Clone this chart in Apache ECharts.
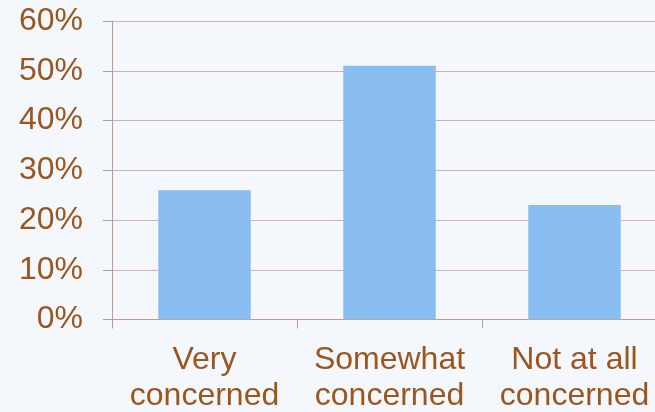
<!DOCTYPE html>
<html>
<head>
<meta charset="utf-8">
<style>
html,body{margin:0;padding:0;background:#f4f7fc;}
#c{width:655px;height:412px;}
</style>
<script src="https://cdn.jsdelivr.net/npm/echarts@6/dist/echarts.min.js"></script>
</head>
<body>
<div id="c"></div>
<script>
const categories = ["Very\nconcerned", "Somewhat\nconcerned", "Not at all\nconcerned"];
const values = [26, 51, 23];
const yTicks = { min: 0, max: 60, interval: 10 };

const chart = echarts.init(document.getElementById('c'), null, { renderer: 'canvas' });
const brown = '#9a561c';
chart.setOption({
  backgroundColor: '#f4f7fc',
  animation: false,
  grid: { left: 112, top: 21, width: 555, height: 298.5, containLabel: false, outerBoundsMode: 'none' },
  xAxis: {
    type: 'category',
    data: categories,
    boundaryGap: true,
    axisLine: { lineStyle: { color: '#bb9d8f', width: 1 } },
    axisTick: { show: true, length: 9, lineStyle: { color: '#bb9d8f' } },
    axisLabel: {
      color: brown, fontFamily: 'Liberation Sans, Arial, sans-serif',
      fontSize: 32, lineHeight: 36, margin: 23, interval: 0
    }
  },
  yAxis: {
    type: 'value',
    min: yTicks.min, max: yTicks.max, interval: yTicks.interval,
    axisLine: { show: true, lineStyle: { color: '#bb9d8f', width: 1 } },
    axisTick: { show: true, length: 9, lineStyle: { color: '#bb9d8f' } },
    splitLine: { show: true, lineStyle: { color: '#d2b4a6', width: 1 } },
    axisLabel: {
      color: brown, fontFamily: 'Liberation Sans, Arial, sans-serif',
      fontSize: 32, margin: 29, formatter: '{value}%'
    }
  },
  series: [{
    type: 'bar',
    data: values,
    barWidth: '50%',
    itemStyle: { color: '#8bbef0' }
  }]
});
</script>
</body>
</html>
